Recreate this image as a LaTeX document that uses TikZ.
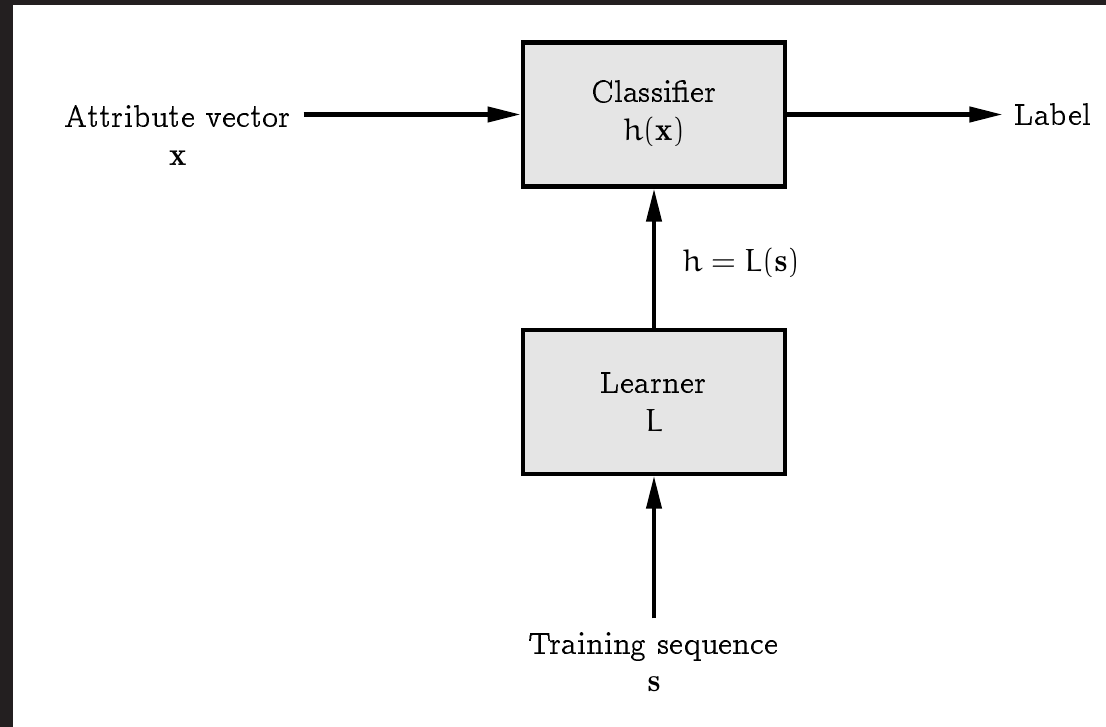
\documentclass[tikz,border=0pt]{standalone}
\usepackage[OT1]{fontenc}
\usepackage{beton}
\usepackage{euler}
\DeclareFontFamily{OT1}{ccr}{\hyphenchar\font45 }
\DeclareFontShape{OT1}{ccr}{m}{n}{<-> ccr10}{}
\usepackage{tikz}
\usetikzlibrary{positioning,arrows.meta}
\definecolor{framegray}{HTML}{231F20}
\definecolor{boxgray}{HTML}{E5E5E5}
\newcommand{\bvec}[1]{\mbox{\fontfamily{cmr}\bfseries #1}}

\begin{document}
\begin{tikzpicture}[x=0.3333pt,y=-0.3333pt,
		font=\fontsize{10.6}{12.4}\selectfont,
		block/.style={draw, line width=1.4pt, fill=boxgray, minimum width=87.5pt, minimum height=48pt, align=center},
		flow/.style={line width=1.4pt, -{Triangle[length=11pt,width=5pt]}}]
	\useasboundingbox (0,0) rectangle (1106,727);
	\fill[framegray] (0,0) rectangle (1106,727);
	\fill[white] (13,5) rectangle (1106,727);
	\node[block] (cls) at (654,114.5) {Classifier\\ $h(\bvec{x})$};
	\node[block, below=46.3pt of cls] (lrn) {Learner\\ $L$};
	\node[left=72.3pt of cls, yshift=-7pt, align=center, inner xsep=4pt] (attr) {Attribute vector\\ $\bvec{x}$};
	\node[right=71.7pt of cls, inner xsep=3.8pt] (lbl) {Label};
	\node[below=47.5pt of lrn, align=center, inner ysep=4.5pt] (train) {Training sequence\\ $\bvec{s}$};
	\path[flow]
	(attr.east |- cls.west) edge (cls.west)
	(cls.east) edge (lbl.west)
	(lrn.north) edge node[right=5.4pt, pos=0.46] {$h = L(\bvec{s})$} (cls.south)
	(train.north) edge (lrn.south);
\end{tikzpicture}
\end{document}
